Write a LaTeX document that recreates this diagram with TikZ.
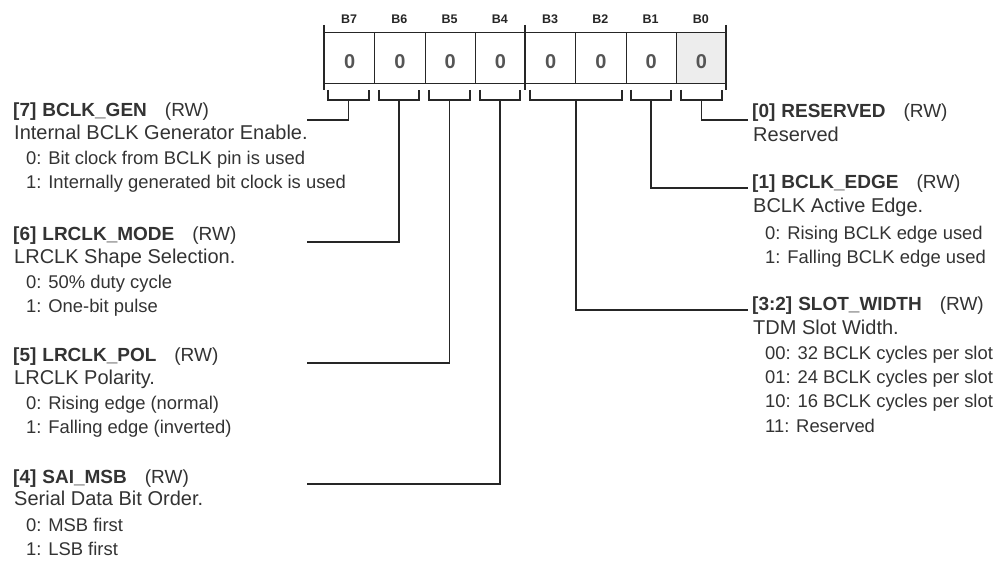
\documentclass[tikz,border=0pt]{standalone}
\usepackage{fontspec}
\setmainfont{Liberation Sans}
\definecolor{txt}{HTML}{333333}
\definecolor{ln}{HTML}{262626}
\definecolor{valc}{HTML}{555555}
\definecolor{shade}{HTML}{EDEDED}
\begin{document}
\begin{tikzpicture}[x=1pt,y=-1pt,
  lead/.style={draw=ln,line width=1.4pt},
  cellbox/.style={draw=ln,line width=1.2pt,minimum width=50.25pt,minimum height=51pt,inner sep=0pt,anchor=north west,text height=20pt,text depth=0pt,font=\fontsize{20}{20}\selectfont\bfseries,text=valc},
  bitlbl/.style={anchor=base,inner sep=0pt,font=\fontsize{12.5}{13}\selectfont\bfseries,text=ln},
  ttl/.style={anchor=base west,inner sep=0pt,font=\fontsize{19}{22}\selectfont,text=txt},
  dsc/.style={anchor=base west,inner sep=0pt,font=\fontsize{20}{22}\selectfont,text=txt},
  opt/.style={anchor=base west,inner sep=0pt,font=\fontsize{18.4}{22}\selectfont,text=txt}]
\useasboundingbox (0,0) rectangle (997,569);
\fill[white] (0,0) rectangle (997,569);
% register cells
\foreach \i/\b in {0/7,1/6,2/5,3/4,4/3,5/2,6/1} {
  \node[cellbox] (c\b) at ({324+\i*50.25},32) {0};
  \node[bitlbl] (l\b) at ({324+\i*50.25+25.1},24) {B\b};
}
\node[cellbox,fill=shade] (c0) at ({324+7*50.25},32) {0};
\node[bitlbl] (l0) at ({324+7*50.25+25.1},24) {B0};
% ticks
\draw[lead] (324,25) -- (324,90);
\draw[lead] (525,25) -- (525,90);
\draw[lead] (726,25) -- (726,90);
% brackets
\foreach \n/\a/\z in {7/328/369,6/379/419,5/429/470,4/480/520,32/530/622,1/631/671,0/681/722} {
  \draw[lead] (\a,90) -- (\a,100) -- (\z,100) -- (\z,90);
  \coordinate (s\n) at ({(\a+\z)/2},100);
}
% leader end points
\coordinate (e7) at (307,120);
\coordinate (e6) at (307,242);
\coordinate (e5) at (307,363);
\coordinate (e4) at (307,484);
\coordinate (e0) at (748,120);
\coordinate (e1) at (748,188);
\coordinate (e32) at (748,310);
\foreach \n in {7,6,5,4,0,1,32} { \draw[lead] (s\n) |- (e\n); }
% left texts
\node[ttl] (t7) at (13,117) {\textbf{[7]\hspace{6pt}BCLK\_GEN}\hspace{18pt}(RW)};
\node[dsc] (d7) at (14,140) {Internal BCLK Generator Enable.};
\node[opt] (o7a) at (26,165) {0: Bit clock from BCLK pin is used};
\node[opt] (o7b) at (26,189) {1: Internally generated bit clock is used};

\node[ttl] (t6) at (13,241) {\textbf{[6]\hspace{6pt}LRCLK\_MODE}\hspace{18pt}(RW)};
\node[dsc] (d6) at (14,264) {LRCLK Shape Selection.};
\node[opt] (o6a) at (26,289) {0: 50\% duty cycle};
\node[opt] (o6b) at (26,313) {1: One-bit pulse};

\node[ttl] (t5) at (13,362) {\textbf{[5]\hspace{6pt}LRCLK\_POL}\hspace{18pt}(RW)};
\node[dsc] (d5) at (14,385) {LRCLK Polarity.};
\node[opt] (o5a) at (26,410) {0: Rising edge (normal)};
\node[opt] (o5b) at (26,434) {1: Falling edge (inverted)};

\node[ttl] (t4) at (13,483) {\textbf{[4]\hspace{6pt}SAI\_MSB}\hspace{18pt}(RW)};
\node[dsc] (d4) at (14,506) {Serial Data Bit Order.};
\node[opt] (o4a) at (26,531) {0: MSB first};
\node[opt] (o4b) at (26,555) {1: LSB first};
% right texts
\node[ttl] (t0) at (752,118) {\textbf{[0]\hspace{6pt}RESERVED}\hspace{18pt}(RW)};
\node[dsc] (d0) at (753,142) {Reserved};

\node[ttl] (t1) at (752,189) {\textbf{[1]\hspace{6pt}BCLK\_EDGE}\hspace{18pt}(RW)};
\node[dsc] (d1) at (753,213) {BCLK Active Edge.};
\node[opt] (o1a) at (765,240) {0: Rising BCLK edge used};
\node[opt] (o1b) at (765,264) {1: Falling BCLK edge used};

\node[ttl] (t32) at (752,311) {\textbf{[3:2]\hspace{6pt}SLOT\_WIDTH}\hspace{18pt}(RW)};
\node[dsc] (d32) at (753,335) {TDM Slot Width.};
\node[opt] (o32a) at (765,360) {00: 32 BCLK cycles per slot};
\node[opt] (o32b) at (765,384) {01: 24 BCLK cycles per slot};
\node[opt] (o32c) at (765,408) {10: 16 BCLK cycles per slot};
\node[opt] (o32d) at (765,433) {11: Reserved};
\end{tikzpicture}
\end{document}
